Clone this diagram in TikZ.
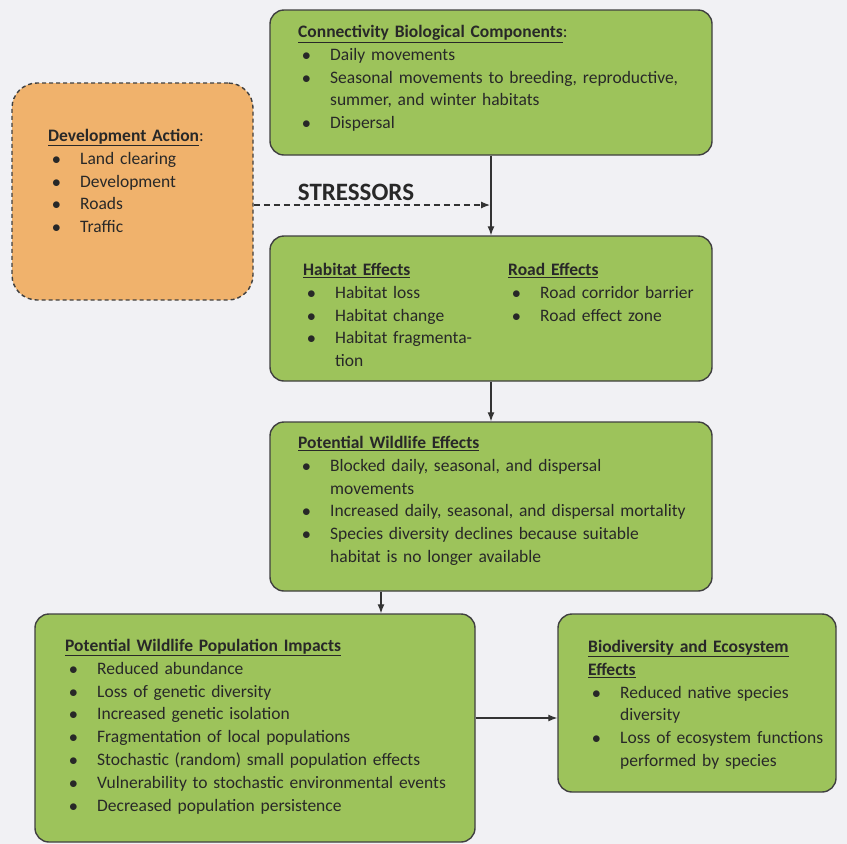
\documentclass[tikz,border=0pt]{standalone}
\usepackage{fontspec}
\setmainfont{Carlito}
\usetikzlibrary{arrows.meta}

\definecolor{leaf}{RGB}{157,195,91}
\definecolor{clay}{RGB}{240,178,108}
\definecolor{paper}{RGB}{241,241,244}
\definecolor{ink}{RGB}{40,40,40}

\newlength{\itmind}\setlength{\itmind}{32pt}
\newcommand{\itm}[1]{\par\hangindent=\itmind\hangafter=1\noindent
  \makebox[\itmind][l]{\hspace{4pt}$\bullet$}#1}
\newcommand{\hd}[1]{\underline{\textbf{#1}}}

\tikzset{
  box/.style={draw=black!75, line width=1.4pt, rounded corners=14pt, fill=leaf, inner sep=0pt},
  txt/.style={anchor=north west, inner sep=0pt, align=left, text=ink, font=\fontsize{17.5}{22.8}\selectfont},
  link/.style={line width=1.2pt, draw=black!80, -{Latex[length=9pt,width=7pt]}},
}

\begin{document}
\begin{tikzpicture}[x=1pt, y=-1pt]
\fill[paper] (0,0) rectangle (847,844);
\useasboundingbox (0,0) rectangle (847,844);

% boxes
\node[box, minimum width=442, minimum height=145] (conn) at (491,82.5) {};
\node[box, fill=clay, dash pattern=on 4pt off 3pt, rounded corners=25pt, minimum width=241, minimum height=217] (dev) at (132.5,191.5) {};
\node[box, minimum width=442, minimum height=145] (stress) at (491,308.5) {};
\node[box, minimum width=442, minimum height=169] (wild) at (491,506.5) {};
\node[box, minimum width=440, minimum height=228] (pop) at (255,728) {};
\node[box, minimum width=278, minimum height=178] (bio) at (697,703) {};

% texts
\node[txt, text width=405pt] (tconn) at (298,25) {\hd{Connectivity Biological Components}:%
  \itm{Daily movements}%
  \itm{Seasonal movements to breeding, reproductive,\newline summer, and winter habitats}%
  \itm{Dispersal}\par};
\node[txt, text width=195pt] (tdev) at (48,129) {\hd{Development Action}:%
  \itm{Land clearing}\itm{Development}\itm{Roads}\itm{Traffic}\par};
\node[txt, text width=200pt] (thab) at (303,263) {\hd{Habitat Effects}%
  \itm{Habitat loss}\itm{Habitat change}\itm{Habitat fragmenta-\newline tion}\par};
\node[txt, text width=200pt] (troad) at (508,263) {\hd{Road Effects}%
  \itm{Road corridor barrier}\itm{Road effect zone}\par};
\node[txt, text width=405pt] (twild) at (298,436) {\hd{Potential Wildlife Effects}%
  \itm{Blocked daily, seasonal, and dispersal\newline movements}%
  \itm{Increased daily, seasonal, and dispersal mortality}%
  \itm{Species diversity declines because suitable\newline habitat is no longer available}\par};
\node[txt, text width=405pt] (tpop) at (65,639) {\hd{Potential Wildlife Population Impacts}%
  \itm{Reduced abundance}%
  \itm{Loss of genetic diversity}%
  \itm{Increased genetic isolation}%
  \itm{Fragmentation of local populations}%
  \itm{Stochastic (random) small population effects}%
  \itm{Vulnerability to stochastic environmental events}%
  \itm{Decreased population persistence}\par};
\node[txt, text width=245pt] (tbio) at (588,640) {\hd{Biodiversity and Ecosystem}\newline\hd{Effects}%
  \itm{Reduced native species\newline diversity}%
  \itm{Loss of ecosystem functions\newline performed by species}\par};

\node[text=ink, font=\fontsize{25}{28}\selectfont\bfseries] (stressors) at (356,192) {STRESSORS};

% connectors
\coordinate (join) at (490,205);
\coordinate (drop) at (381,600);
\coordinate (side) at (515,718);
\draw[link] (conn.south) -- (stress.north);
\draw[link, dash pattern=on 6pt off 4pt] (dev.east |- join) -- (join);
\draw[link] (stress.south) -- (wild.north);
\draw[link] (wild.south -| drop) -- (pop.north -| drop);
\draw[link] (pop.east |- side) -- (bio.west |- side);
\end{tikzpicture}
\end{document}
